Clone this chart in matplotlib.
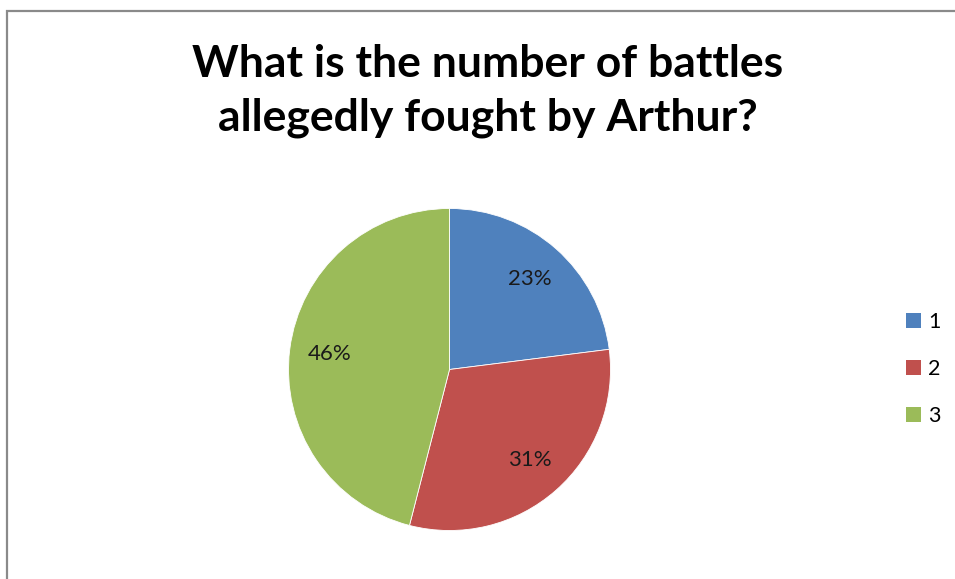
import matplotlib
matplotlib.use("Agg")
import matplotlib.pyplot as plt
from matplotlib.patches import Patch, Rectangle

# Survey answers: share of responses per option
categories = ["1", "2", "3"]
shares = [23, 31, 46]
colors = ["#4F81BD", "#C0504D", "#9BBB59"]

W, H = 955, 579
fig = plt.figure(figsize=(W / 100, H / 100), dpi=100)
fig.patch.set_facecolor("white")

# chart-area frame (runs off the right and bottom edges)
fig.patches.append(Rectangle((6.5 / W, -0.05), 1.2, 1 - 10.5 / H + 0.05,
                             transform=fig.transFigure, fill=False,
                             edgecolor="#8a8a8a", linewidth=1.6))

fig.text(487.5 / W, 1 - 44 / H,
         "What is the number of battles\nallegedly fought by Arthur?",
         ha="center", va="top", fontsize=32, fontweight="bold",
         family="Lato", color="black", linespacing=1.4)

cx, cy, r = 449.5, 369.5, 161
ax = fig.add_axes([(cx - r) / W, (H - cy - r) / H, 2 * r / W, 2 * r / H])
wedges, texts, autotexts = ax.pie(
    shares, colors=colors, startangle=90, counterclock=False,
    autopct="%d%%", pctdistance=0.75, radius=1,
    wedgeprops=dict(edgecolor="white", linewidth=0.6),
    textprops=dict(fontsize=16, family="Lato", color="#1a1a1a"))
ax.set_xlim(-1, 1)
ax.set_ylim(-1, 1)
ax.set_aspect("equal")
ax.axis("off")

handles = [Patch(facecolor=c, edgecolor="none") for c in colors]
fig.legend(handles, categories, loc="center left",
           bbox_to_anchor=(906 / W, 1 - 369 / H), frameon=False,
           handlelength=0.68, handleheight=0.68, handletextpad=0.35,
           labelspacing=1.25, borderpad=0, borderaxespad=0,
           prop=dict(family="Lato", size=15.5))

fig.savefig("out.png", dpi=100)
